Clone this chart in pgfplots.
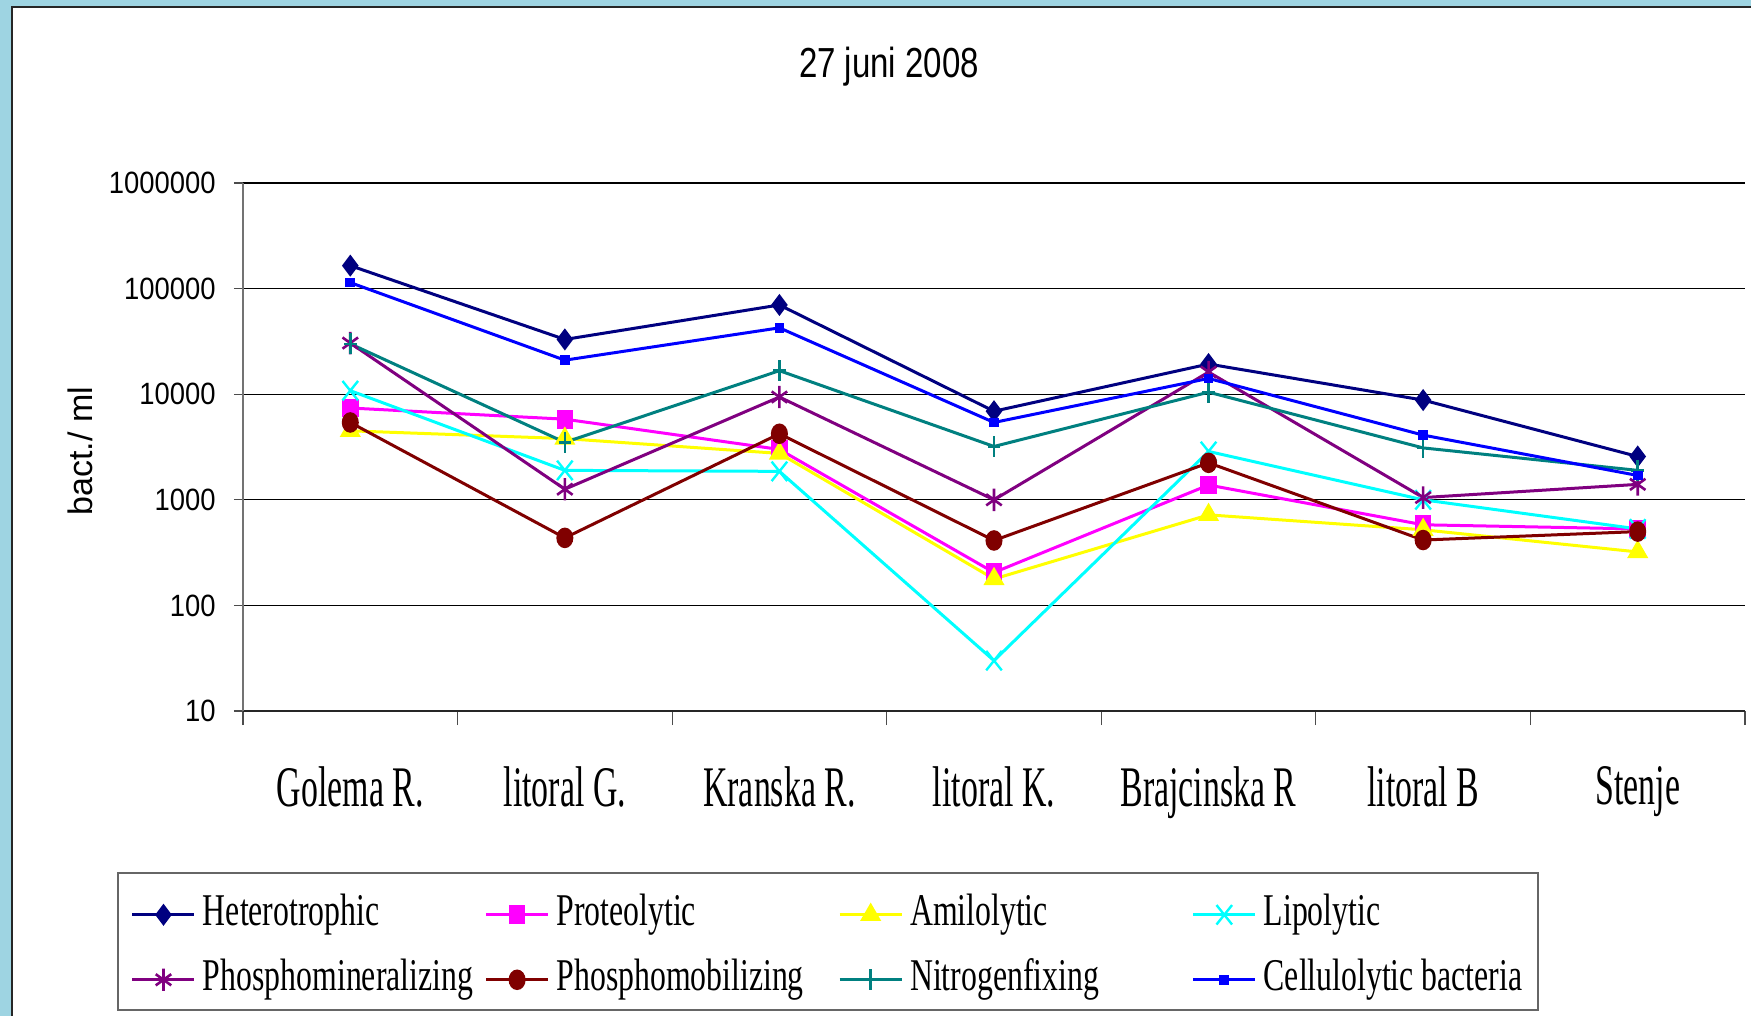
\documentclass[border=0pt]{standalone}
\usepackage{fontspec}
\setmainfont{Liberation Serif}
\newfontfamily\arialtick[FakeStretch=0.89]{Liberation Sans}
\newfontfamily\arialtitle[FakeStretch=0.786]{Liberation Sans}
\newfontfamily\arial{Liberation Sans}
\newfontfamily\catfont[FakeStretch=0.59]{Liberation Serif}
\newfontfamily\legfont[FakeStretch=0.70]{Liberation Serif}
\usepackage{pgfplots}
\pgfplotsset{compat=1.18}
\definecolor{bgblue}{RGB}{158,212,226}
\definecolor{cnavy}{RGB}{0,0,128}
\definecolor{cmag}{RGB}{255,0,255}
\definecolor{cyel}{RGB}{255,255,0}
\definecolor{ccyan}{RGB}{0,255,255}
\definecolor{cpurp}{RGB}{128,0,128}
\definecolor{cbrown}{RGB}{128,0,0}
\definecolor{cteal}{RGB}{0,128,128}
\definecolor{cblue}{RGB}{0,0,255}
\newcommand{\lent}[1]{\makebox[140.8pt][l]{#1}}
\begin{document}
\begin{tikzpicture}
\useasboundingbox (0,0) rectangle (875.5pt,-508pt);
\fill[bgblue] (0,0) rectangle (875.5pt,-508pt);
\fill[white] (6pt,-3.5pt) rectangle (875.5pt,-508pt);
\draw[black!85, line width=1pt] (6pt,-508pt) -- (6pt,-3.5pt) -- (875.5pt,-3.5pt);
\begin{axis}[
  at={(121.5pt,-355.5pt)}, anchor=south west,
  scale only axis, width=751pt, height=264pt,
  ymode=log, ymin=10, ymax=1000000, xmin=-0.5, xmax=6.5,
  axis x line=bottom, axis y line=left, axis line style={-},
  x axis line style={black!85, line width=0.6pt},
  y axis line style={black!55, line width=0.6pt},
  ytick={10,100,1000,10000,100000,1000000},
  yticklabels={10,100,1000,10000,100000,1000000},
  yminorticks=false,
  ymajorgrids, major grid style={black, line width=0.6pt},
  xtick={0,...,6},
  xticklabels={Golema R., litoral G., Kranska R., litoral K., Brajcinska R, litoral B, Stenje},
  minor xtick={-0.5,0.5,...,6.5},
  major x tick style={draw=none},
  minor x tick style={black!70, line width=0.6pt},
  y tick style={black!70, line width=0.6pt},
  tick align=outside,
  major tick length=4.5pt, minor tick length=7pt,
  /pgf/number format/assume math mode=true,
  yticklabel style={font=\arialtick\fontsize{15.4}{16}\selectfont, anchor=east, inner sep=0pt, xshift=-9pt},
  xticklabel style={font=\catfont\fontsize{28.7}{30}\selectfont, anchor=north, inner sep=0pt, yshift=-23pt},
  ylabel={bact./ ml},
  ylabel style={at={(axis description cs:-0.1085,0.492)}, anchor=center, font=\arial\fontsize{17}{19}\selectfont},
  title={27 juni 2008},
  title style={at={(axis description cs:0.4301,1.1777)}, anchor=base, font=\arialtitle\fontsize{21}{24}\selectfont},
  legend columns=4,
  legend cell align=left,
  legend image code/.code={\draw[mark repeat=2,mark phase=2,#1] plot coordinates {(0pt,0pt) (15.5pt,0pt) (31pt,0pt)};},
  legend style={at={(axis description cs:-0.0835,-0.317)}, anchor=north west,
    draw=none, fill=none, inner xsep=6.5pt, inner ysep=7.75pt,
    row sep=12pt, column sep=0pt,
    /tikz/every odd column/.append style={column sep=3.5pt},
    font=\legfont\fontsize{22.7}{24}\selectfont,
    nodes={inner sep=0pt, text height=15.5pt, text depth=5pt}},
]
\addplot[cnavy, line width=1.5pt, mark=diamond*, mark size=4.3pt, mark options={solid}]
  coordinates {(0,165000) (1,33000) (2,70000) (3,6900) (4,19300) (5,8800) (6,2570)};
\addlegendentry{\lent{Heterotrophic}}
\addplot[cmag, line width=1.5pt, mark=square*, mark size=3.4pt, mark options={solid, yscale=1.15}]
  coordinates {(0,7400) (1,5800) (2,3000) (3,205) (4,1380) (5,580) (6,530)};
\addlegendentry{\lent{Proteolytic}}
\addplot[cyel, line width=1.5pt, mark=triangle*, mark size=4.6pt, mark options={solid}]
  coordinates {(0,4500) (1,3800) (2,2750) (3,178) (4,720) (5,520) (6,321)};
\addlegendentry{\lent{Amilolytic}}
\addplot[ccyan, line width=1.5pt, mark=x, mark size=5.5pt, mark options={solid, line width=1.2pt, yscale=1.25}]
  coordinates {(0,10800) (1,1900) (2,1860) (3,30) (4,2870) (5,1000) (6,530)};
\addlegendentry{\lent{Lipolytic}}
\addplot[cpurp, line width=1.5pt, mark=asterisk, mark size=5.6pt, mark options={solid, line width=1.3pt, xscale=0.8}]
  coordinates {(0,30500) (1,1260) (2,9400) (3,1000) (4,16200) (5,1050) (6,1400)};
\addlegendentry{\lent{Phosphomineralizing}}
\addplot[cbrown, line width=1.5pt, mark=*, mark size=3.5pt, mark options={solid, yscale=1.25}]
  coordinates {(0,5400) (1,436) (2,4220) (3,412) (4,2240) (5,416) (6,500)};
\addlegendentry{\lent{Phosphomobilizing}}
\addplot[cteal, line width=1.5pt, mark=+, mark size=5.2pt, mark options={solid, line width=1.3pt, xscale=0.6}]
  coordinates {(0,30000) (1,3500) (2,16700) (3,3200) (4,10450) (5,3100) (6,1900)};
\addlegendentry{\lent{Nitrogenfixing}}
\addplot[cblue, line width=1.5pt, mark=square*, mark size=1.7pt, mark options={solid}]
  coordinates {(0,114000) (1,21000) (2,42500) (3,5400) (4,14100) (5,4100) (6,1700)};
\addlegendentry{\makebox[131pt][l]{Cellulolytic bacteria}}
\end{axis}
\draw[black!60, line width=0.8pt] (59pt,-436.5pt) rectangle (769pt,-505pt);
\end{tikzpicture}
\end{document}
